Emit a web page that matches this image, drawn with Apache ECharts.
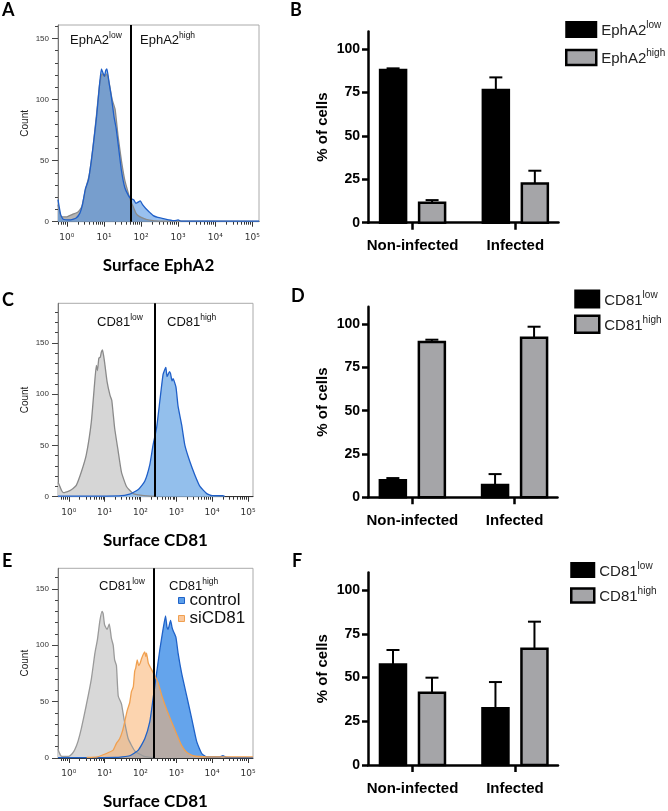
<!DOCTYPE html>
<html><head><meta charset="utf-8">
<script src="https://cdn.jsdelivr.net/npm/echarts@6/dist/echarts.min.js"></script>
<style>html,body{margin:0;padding:0;background:#fff}#c{width:668px;height:811px}</style>
</head><body><div id="c"></div>
<script>
// ---------- DATA ----------
// Histograms: [log10 fluorescence (decade), count]
const histA_isotype = [[-0.24,14],[-0.15,4],[0.0,4],[0.15,6],[0.3,8],[0.4,12],[0.5,26],[0.6,38],[0.7,60],[0.8,88],[0.88,112],[0.95,121],[1.02,119],[1.08,121],[1.15,112],[1.22,100],[1.3,92],[1.38,70],[1.47,50],[1.56,34],[1.65,24],[1.72,17],[1.79,12],[1.86,7],[1.92,5],[2.05,3],[2.2,1.5],[2.5,0.5],[5.18,0.3]];
const histA_EphA2 = [[-0.24,18],[-0.17,6],[-0.1,2],[0.1,1.5],[0.25,3],[0.35,7],[0.42,14],[0.5,27],[0.58,34],[0.66,50],[0.74,70],[0.8,86],[0.88,112],[0.93,125],[0.97,122],[1.01,119],[1.05,124],[1.08,125],[1.14,113],[1.2,102],[1.27,86],[1.33,76],[1.38,64],[1.47,42],[1.56,28],[1.65,22],[1.72,19],[1.8,18],[1.86,15],[1.92,16],[1.98,17],[2.04,14],[2.12,11],[2.22,8],[2.33,5],[2.45,3.5],[2.6,2.5],[2.75,1.5],[2.9,0.8],[3.0,1.5],[3.08,0.5],[5.18,0.5]];
const histC_isotype = [[-0.3,14],[-0.27,12],[-0.2,6],[-0.15,4],[0.03,6],[0.12,8],[0.21,11],[0.35,24],[0.49,41],[0.63,73],[0.72,110],[0.77,128],[0.8,123],[0.84,135],[0.88,136],[0.91,141],[0.94,143],[0.97,138],[1.0,131],[1.07,112],[1.15,99],[1.2,94],[1.28,67],[1.38,44],[1.47,24],[1.61,10],[1.8,3],[2.1,1],[2.4,0.3]];
const histC_CD81 = [[-0.3,0.5],[1.4,0.8],[1.7,2.5],[1.94,7],[2.12,15],[2.26,31],[2.35,50],[2.45,67],[2.54,93],[2.63,119],[2.68,124],[2.71,126],[2.74,117],[2.77,119],[2.81,122],[2.84,120],[2.88,113],[2.91,115],[2.99,107],[3.05,88],[3.15,70],[3.24,50],[3.38,34],[3.52,21],[3.66,10],[3.85,3],[4.0,1],[4.3,1],[4.35,0.3]];
const histE_isotype = [[-0.3,8],[-0.27,5],[-0.2,1.5],[0.0,1.5],[0.1,4],[0.17,7.5],[0.26,15],[0.35,26],[0.49,47],[0.63,70],[0.73,93],[0.8,105],[0.87,122],[0.93,130],[0.96,128],[1.0,118],[1.07,114],[1.13,119],[1.19,106],[1.24,100],[1.28,87],[1.33,82],[1.38,55],[1.47,48],[1.54,35],[1.66,17],[1.85,6],[2.1,1.5],[2.4,0.3]];
const histE_control = [[-0.3,0.3],[1.3,0.5],[1.7,2],[1.94,7],[2.12,17],[2.26,32],[2.35,52],[2.45,75],[2.54,96],[2.63,114],[2.7,126],[2.74,116],[2.77,114],[2.84,122],[2.88,116],[2.91,113],[2.99,107],[3.05,93],[3.15,75],[3.29,55],[3.43,35],[3.57,14.5],[3.71,4],[3.85,1],[4.2,1],[4.3,2],[4.4,0.5],[5.14,0.3]];
const histE_siCD81 = [[0.5,0.5],[0.8,1],[1.05,4],[1.24,7],[1.33,13],[1.42,17],[1.5,24],[1.56,32],[1.63,42],[1.7,49],[1.75,59],[1.8,63],[1.84,77],[1.87,80],[1.91,87],[1.95,82],[1.99,84],[2.03,88],[2.08,92],[2.12,94],[2.15,90],[2.17,93],[2.22,84],[2.3,79],[2.4,73],[2.49,67],[2.59,56],[2.73,43],[2.87,32],[3.01,21],[3.15,11],[3.29,5],[3.47,2],[3.85,1],[5.14,1]];
const gateA = 1.72, gateC = 2.40, gateE = 2.38;
const decadeTicks = [0, 1, 2, 3, 4, 5];
const decadeLabels = ['10⁰', '10¹', '10²', '10³', '10⁴', '10⁵'];
const countTicks = [0, 50, 100, 150];

// Bar charts
const barCats = ['Non-infected', 'Infected'];
const B_low = [87.8, 76.3],  B_low_err = [1.0, 7.3];
const B_high = [11.5, 22.6], B_high_err = [1.5, 7.3];
const D_low = [9.8, 7.1],    D_low_err = [1.3, 6.3];
const D_high = [89.7, 92.2], D_high_err = [1.3, 6.3];
const F_low = [57.5, 32.4],  F_low_err = [8.2, 15.0];
const F_high = [41.3, 66.5], F_high_err = [8.6, 15.4];
const pctTicks = [0, 25, 50, 75, 100];

// ---------- HELPERS ----------
const SANS = 'Liberation Sans';
const GRAYBAR = '#a5a5a8';
function minorLog(min, max) {
  const out = [];
  for (let n = -1; n <= 5; n++) for (let k = 2; k <= 9; k++) {
    const v = n + Math.log10(k);
    if (v > min && v < max) out.push(v);
  }
  return out;
}
function minorCount(max) {
  const out = [];
  for (let v = 10; v < max; v += 10) if (v % 50 !== 0) out.push(v);
  return out;
}
function histX(grid, min, max, name) {
  return [{
    type: 'value', gridIndex: grid, min, max, position: 'bottom',
    axisLine: { show: true, onZero: false, lineStyle: { color: '#333', width: 1 } },
    axisTick: { show: true, length: 5, customValues: decadeTicks, lineStyle: { color: '#333' } },
    axisLabel: {
      customValues: decadeTicks, margin: 11, showMinLabel: true, showMaxLabel: true,
      formatter: v => decadeLabels[Math.round(v)],
      fontSize: 9, fontFamily: 'DejaVu Sans', color: '#333'
    },
    splitLine: { show: false },
    name, nameLocation: 'middle', nameGap: 35,
    nameTextStyle: { fontFamily: 'Lato', fontWeight: 'bold', fontSize: 17, color: '#000' }
  }, {
    type: 'value', gridIndex: grid, min, max, position: 'bottom',
    axisLine: { show: false, onZero: false }, axisLabel: { show: false }, splitLine: { show: false },
    axisTick: { show: true, length: 3, customValues: minorLog(min, max), lineStyle: { color: '#333' } }
  }];
}
function histY(grid, max) {
  return [{
    type: 'value', gridIndex: grid, min: 0, max, position: 'left',
    axisLine: { show: true, onZero: false, lineStyle: { color: '#777', width: 1 } },
    axisTick: { show: true, length: 6, customValues: countTicks, lineStyle: { color: '#444' } },
    axisLabel: { customValues: countTicks, fontSize: 8, fontFamily: SANS, color: '#333', margin: 9 },
    splitLine: { show: false },
    name: 'Count', nameLocation: 'middle', nameGap: 28,
    nameTextStyle: { fontSize: 10, fontFamily: SANS, color: '#222' }
  }, {
    type: 'value', gridIndex: grid, min: 0, max, position: 'left',
    axisLine: { show: false, onZero: false }, axisLabel: { show: false }, splitLine: { show: false },
    axisTick: { show: true, length: 3, customValues: minorCount(max), lineStyle: { color: '#444' } }
  }];
}
function barX(grid) {
  return {
    type: 'value', gridIndex: grid, min: -0.434, max: 1.42,
    axisLine: { show: true, onZero: false, lineStyle: { color: '#000', width: 2.5 } },
    axisTick: { show: true, length: 7, customValues: [0, 1], lineStyle: { color: '#000', width: 2.5 } },
    axisLabel: {
      customValues: [0, 1], formatter: v => barCats[Math.round(v)],
      fontFamily: SANS, fontWeight: 'bold', fontSize: 15, color: '#000', margin: 16
    },
    splitLine: { show: false }
  };
}
function barY(grid) {
  return {
    type: 'value', gridIndex: grid, min: 0, max: 110,
    axisLine: { show: true, onZero: false, lineStyle: { color: '#000', width: 2.5 } },
    axisTick: { show: true, length: 6, customValues: pctTicks, lineStyle: { color: '#000', width: 2.5 } },
    axisLabel: { customValues: pctTicks, fontFamily: SANS, fontWeight: 'bold', fontSize: 14, color: '#000', margin: 8 },
    splitLine: { show: false },
    name: '% of cells', nameLocation: 'middle', nameGap: 38,
    nameTextStyle: { fontFamily: SANS, fontWeight: 'bold', fontSize: 15, color: '#000' }
  };
}
function hist(name, axis, data, line, fill, extra) {
  return Object.assign({
    type: 'line', name, xAxisIndex: axis, yAxisIndex: axis, data,
    showSymbol: false, symbol: 'none', smooth: 0.15, animation: false, silent: true,
    lineStyle: { color: line, width: 1.3 }, itemStyle: { color: line },
    areaStyle: { color: fill, origin: 'start', opacity: 1 }
  }, extra || {});
}
function gate(x) {
  return { symbol: 'none', silent: true, animation: false, label: { show: false },
    lineStyle: { color: '#000', width: 2, type: 'solid' }, data: [{ xAxis: x }] };
}
function bars(name, axis, means, errs, fill, offset) {
  return {
    type: 'custom', name, xAxisIndex: axis, yAxisIndex: axis, animation: false, silent: true,
    itemStyle: { color: fill, borderColor: '#000' },
    data: means.map((m, i) => [i, m, errs[i]]),
    encode: { x: 0, y: 1 },
    renderItem(params, api) {
      const i = api.value(0), m = api.value(1), e = api.value(2);
      const p0 = api.coord([i, 0]), p1 = api.coord([i, m]), p2 = api.coord([i, m + e]);
      const cx = p0[0] + offset, w = 26;
      return { type: 'group', children: [
        { type: 'line', shape: { x1: cx, y1: p1[1], x2: cx, y2: p2[1] }, style: { stroke: '#000', lineWidth: 2 } },
        { type: 'line', shape: { x1: cx - 6.5, y1: p2[1], x2: cx + 6.5, y2: p2[1] }, style: { stroke: '#000', lineWidth: 2 } },
        { type: 'rect', shape: { x: cx - w / 2, y: p1[1], width: w, height: p0[1] - p1[1] },
          style: { fill, stroke: '#000', lineWidth: 2.5 } }
      ]};
    }
  };
}
const supFmt = n => { const p = n.split('_'); return '{b|' + p[0] + '}{s|' + p[1] + '}'; };
const legRich = {
  b: { fontSize: 15, fontFamily: SANS, color: '#222', lineHeight: 18, verticalAlign: 'bottom' },
  s: { fontSize: 10, fontFamily: SANS, color: '#222', lineHeight: 10, verticalAlign: 'top' }
};
function barLegend(left, top, w, h, gap, lowName, highName) {
  return {
    left, top, orient: 'vertical', padding: 0, itemWidth: w, itemHeight: h, itemGap: gap,
    selectedMode: false, formatter: supFmt, textStyle: { rich: legRich },
    data: [
      { name: lowName, icon: 'rect', itemStyle: { color: '#000', borderColor: '#000', borderWidth: 2 } },
      { name: highName, icon: 'rect', itemStyle: { color: GRAYBAR, borderColor: '#000', borderWidth: 2.5 } }
    ]
  };
}
function regionLabel(x, y, base, sup) {
  return { type: 'text', x, y, silent: true, style: {
    text: '{b|' + base + '}{s|' + sup + '}', verticalAlign: 'middle',
    rich: {
      b: { fontSize: 13, fontFamily: SANS, fill: '#111', lineHeight: 15, verticalAlign: 'bottom' },
      s: { fontSize: 8.5, fontFamily: SANS, fill: '#111', lineHeight: 9, verticalAlign: 'top' }
    }
  }};
}
function letter(x, y, t) {
  return { type: 'text', x, y, silent: true,
    style: { text: t, font: 'bold 18px Lato', fill: '#000', verticalAlign: 'middle' } };
}

// ---------- CHART ----------
const chart = echarts.init(document.getElementById('c'), null, { renderer: 'canvas' });
const option = {
  animation: false,
  backgroundColor: '#fff',
  grid: [
    { left: 58, top: 25, width: 201, height: 196.7, show: true, borderColor: '#aaa', borderWidth: 1 },
    { left: 368, top: 31.5, width: 190.5, height: 191.2 },
    { left: 58, top: 303.3, width: 195, height: 193.4, show: true, borderColor: '#aaa', borderWidth: 1 },
    { left: 368, top: 306.8, width: 189.5, height: 190.5 },
    { left: 58, top: 568.3, width: 195, height: 193.4, show: true, borderColor: '#aaa', borderWidth: 1 },
    { left: 368, top: 572.5, width: 190, height: 192.5 }
  ],
  xAxis: [
    ...histX(0, -0.24, 5.18, 'Surface EphA2'),
    barX(1),
    ...histX(2, -0.30, 5.14, 'Surface CD81'),
    barX(3),
    ...histX(4, -0.30, 5.14, 'Surface CD81'),
    barX(5)
  ],
  yAxis: [
    ...histY(0, 161),
    barY(1),
    ...histY(2, 188.5),
    barY(3),
    ...histY(4, 168.2),
    barY(5)
  ],
  legend: [
    barLegend(565, 20.5, 30, 15, 10, 'EphA2_low', 'EphA2_high'),
    barLegend(574, 289.5, 24, 17, 6, 'CD81_low', 'CD81_high'),
    barLegend(570, 561, 23, 14, 7.5, 'CD81_low', 'CD81_high'),
    {
      left: 178, top: 592, orient: 'vertical', padding: 0, itemWidth: 6, itemHeight: 6, itemGap: 1,
      selectedMode: false, textStyle: { fontSize: 17, fontFamily: SANS, color: '#111' },
      data: [
        { name: 'control', icon: 'rect', itemStyle: { color: '#5c9fea', borderColor: '#1f62c8', borderWidth: 1 } },
        { name: 'siCD81', icon: 'rect', itemStyle: { color: '#fac89c', borderColor: '#f0a050', borderWidth: 1 } }
      ]
    }
  ],
  series: [
    hist('A_isotype', 0, histA_isotype, '#8a8a8a', '#b4b4b4'),
    hist('A_EphA2', 0, histA_EphA2, '#1f5fc8', 'rgba(70,140,225,0.55)', { markLine: gate(gateA) }),
    bars('EphA2_low', 2, B_low, B_low_err, '#000', -19.5),
    bars('EphA2_high', 2, B_high, B_high_err, GRAYBAR, 19.5),
    hist('C_isotype', 3, histC_isotype, '#8a8a8a', '#d6d6d6'),
    hist('C_CD81', 3, histC_CD81, '#1f5fc8', '#93bfec', { markLine: gate(gateC) }),
    bars('CD81_low', 5, D_low, D_low_err, '#000', -19.5),
    bars('CD81_high', 5, D_high, D_high_err, GRAYBAR, 19.5),
    hist('E_isotype', 6, histE_isotype, '#9a9a9a', '#d8d8d8'),
    hist('control', 6, histE_control, '#1f62c8', '#64a4ec'),
    hist('siCD81', 6, histE_siCD81, '#f0a050', 'rgba(250,176,110,0.55)', { markLine: gate(gateE) }),
    bars('CD81_low', 8, F_low, F_low_err, '#000', -19.5),
    bars('CD81_high', 8, F_high, F_high_err, GRAYBAR, 19.5)
  ],
  graphic: [
    letter(2, 10, 'A'), letter(290, 10, 'B'),
    letter(2, 300, 'C'), letter(291, 296, 'D'),
    letter(2, 561, 'E'), letter(292, 561, 'F'),
    regionLabel(70, 39, 'EphA2', 'low'), regionLabel(140, 39, 'EphA2', 'high'),
    regionLabel(97, 321, 'CD81', 'low'), regionLabel(167, 321, 'CD81', 'high'),
    regionLabel(99, 585, 'CD81', 'low'), regionLabel(169, 585, 'CD81', 'high')
  ]
};
chart.setOption(option);
</script>
</body></html>
